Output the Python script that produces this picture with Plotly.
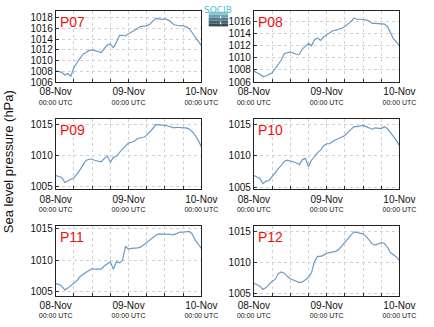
import pandas as pd
import plotly.graph_objects as go

# ---------------- data ----------------
hours = pd.date_range("2013-11-08 00:00", periods=49, freq="h")

p07 = [1008.1, 1008.0, 1007.8, 1007.3, 1007.6, 1007.1, 1008.7, 1009.6, 1010.5, 1011.2,
       1011.5, 1011.9, 1012.0, 1011.8, 1011.7, 1011.5, 1012.3, 1012.9, 1013.1, 1012.4,
       1013.4, 1014.7, 1014.7, 1014.6, 1015.0, 1015.3, 1015.6, 1016.0, 1016.4, 1016.4,
       1016.5, 1016.8, 1017.3, 1017.9, 1017.8, 1017.7, 1017.8, 1017.6, 1017.2, 1016.7,
       1016.6, 1016.6, 1016.5, 1016.3, 1016.0, 1015.2, 1014.5, 1013.6, 1012.8]
p08 = [1007.8, 1007.6, 1007.3, 1006.9, 1007.0, 1007.3, 1007.5, 1008.2, 1008.9, 1009.6,
       1010.7, 1010.9, 1011.0, 1010.8, 1010.6, 1010.6, 1011.5, 1011.9, 1012.4, 1012.0,
       1013.0, 1013.3, 1012.9, 1013.5, 1013.8, 1014.2, 1014.5, 1014.6, 1014.7, 1014.9,
       1015.2, 1015.6, 1016.0, 1016.6, 1016.4, 1016.4, 1016.4, 1016.3, 1016.1, 1015.7,
       1015.7, 1015.7, 1015.6, 1015.6, 1015.2, 1014.2, 1013.2, 1012.6, 1012.0]
p09 = [1006.8, 1006.7, 1006.5, 1005.7, 1006.0, 1006.2, 1006.4, 1007.0, 1007.7, 1008.5,
       1009.2, 1009.4, 1009.4, 1009.2, 1009.1, 1009.0, 1009.5, 1009.9, 1008.9, 1009.7,
       1009.9, 1010.5, 1011.0, 1011.5, 1012.0, 1012.1, 1012.3, 1012.7, 1012.8, 1012.9,
       1013.2, 1013.7, 1014.3, 1014.9, 1014.9, 1014.8, 1014.8, 1014.7, 1014.5, 1014.4,
       1014.5, 1014.4, 1014.4, 1014.4, 1014.2, 1013.8, 1013.2, 1012.4, 1011.4]
p10 = [1006.9, 1006.7, 1006.4, 1005.6, 1006.0, 1006.1, 1006.7, 1007.2, 1007.8, 1008.5,
       1009.1, 1009.3, 1009.2, 1009.0, 1008.9, 1008.6, 1009.4, 1009.6, 1008.3, 1009.3,
       1010.0, 1010.5, 1010.9, 1011.6, 1011.9, 1011.9, 1012.3, 1012.5, 1012.7, 1012.9,
       1013.2, 1013.7, 1014.2, 1014.6, 1014.6, 1014.7, 1014.8, 1014.6, 1014.4, 1014.2,
       1014.4, 1014.4, 1014.3, 1014.6, 1014.3, 1013.7, 1013.1, 1012.4, 1011.6]
p11 = [1006.3, 1006.2, 1005.9, 1005.3, 1005.6, 1006.0, 1006.3, 1006.8, 1007.4, 1007.8,
       1008.1, 1008.4, 1008.7, 1008.6, 1008.6, 1008.6, 1009.1, 1009.5, 1009.8, 1008.6,
       1009.8, 1009.6, 1010.0, 1012.2, 1011.8, 1011.9, 1011.9, 1012.0, 1012.1, 1012.5,
       1012.8, 1013.2, 1013.7, 1014.0, 1014.2, 1014.2, 1014.2, 1014.2, 1014.1, 1014.1,
       1014.3, 1014.5, 1014.5, 1014.5, 1014.6, 1014.2, 1013.2, 1012.6, 1011.9]
p12 = [1006.7, 1006.4, 1006.2, 1005.7, 1006.0, 1006.5, 1007.0, 1007.3, 1008.2, 1008.5,
       1008.3, 1007.8, 1007.4, 1007.2, 1007.0, 1006.8, 1006.9, 1007.2, 1007.6, 1008.4,
       1010.2, 1011.0, 1011.0, 1011.2, 1011.5, 1011.6, 1011.7, 1011.8, 1012.1, 1012.7,
       1013.3, 1013.8, 1014.4, 1014.9, 1014.8, 1014.7, 1014.6, 1014.2, 1013.5, 1013.0,
       1012.8, 1013.0, 1013.2, 1013.1, 1012.5, 1011.6, 1011.3, 1010.9, 1010.3]

station_names = ["P07", "P08", "P09", "P10", "P11", "P12"]
series = [p07, p08, p09, p10, p11, p12]
y_ranges = [[1006, 1019.3], [1006, 1017.8], [1004.6, 1015.8],
            [1004.7, 1015.8], [1004.4, 1015.4], [1004.7, 1015.8]]
y_dtick = [2, 2, 5, 5, 5, 5]
date_labels = ["08-Nov", "09-Nov", "10-Nov"]
y_title = "Sea level pressure (hPa)"

# ---------------- layout ----------------
W, H = 434, 327
col_x = [(42, 200), (257, 415)]
row_y = [(8, 81), (119, 191), (229, 300)]

tickvals = pd.date_range("2013-11-08 00:00", periods=9, freq="6h")
ticktext = []
for i in range(9):
    if i % 4 == 0:
        ticktext.append("<span style='font-size:10px'>" + date_labels[i // 4] +
                        "</span><br>00:00 UTC")
    else:
        ticktext.append("")

fig = go.Figure()
line_color = "#6b9bc6"

for k, (name, vals) in enumerate(zip(station_names, series)):
    r, c = divmod(k, 2)
    ax = "" if k == 0 else str(k + 1)
    fig.add_trace(go.Scatter(x=hours, y=vals, mode="lines",
                             line=dict(color=line_color, width=1.2),
                             xaxis="x" + ax, yaxis="y" + ax,
                             showlegend=False, hoverinfo="skip"))
    x0, x1 = col_x[c]
    yt, yb = row_y[r]
    fig.update_layout(**{
        "xaxis" + ax: dict(
            domain=[x0 / W, x1 / W], anchor="y" + ax,
            range=[hours[0], hours[-1]],
            tickmode="array", tickvals=tickvals, ticktext=ticktext,
            ticks="inside", ticklen=3, tickcolor="#333",
            showgrid=True, gridcolor="#d2d2d2", griddash="dot", gridwidth=1,
            showline=True, linecolor="#222", linewidth=1, mirror=True,
            zeroline=False, tickfont=dict(size=7, color="#111"),
            ticklabelstandoff=4),
        "yaxis" + ax: dict(
            domain=[1 - yb / H, 1 - yt / H], anchor="x" + ax,
            range=y_ranges[k], dtick=y_dtick[k], tick0=1000,
            ticks="inside", ticklen=3, tickcolor="#333",
            showgrid=True, gridcolor="#d2d2d2", griddash="dot", gridwidth=1,
            showline=True, linecolor="#222", linewidth=1, mirror=True,
            zeroline=False, tickfont=dict(size=10, color="#111")),
    })
    fig.add_annotation(text=name, xref="paper", yref="paper",
                       x=(x0 + 2) / W, y=1 - (yt + 1) / H,
                       xanchor="left", yanchor="top", showarrow=False,
                       font=dict(size=14, color="#ee1111",
                                 family="Liberation Sans, Arial"))

fig.add_annotation(text=y_title, xref="paper", yref="paper",
                   x=10 / W, y=1 - 163 / H, textangle=-90, xshift=-18,
                   showarrow=False, xanchor="center", yanchor="middle",
                   font=dict(size=13, color="#111",
                             family="Liberation Sans, Arial"))

# small logo (top centre)
bands = ["#8cc6d2", "#6e9fae", "#557f8e", "#42636f", "#334b55"]
for i, col in enumerate(bands):
    fig.add_shape(type="rect", xref="paper", yref="paper",
                  x0=208 / W, x1=229 / W,
                  y0=1 - (9 + 3 * (i + 1)) / H, y1=1 - (9 + 3 * i) / H,
                  fillcolor=col, line=dict(width=0), layer="above")
fig.add_shape(type="line", xref="paper", yref="paper",
              x0=221 / W, x1=221 / W, y0=1 - 22 / H, y1=1 - 13 / H,
              line=dict(color="white", width=1, dash="dot"), layer="above")
fig.add_annotation(text="SOCIB", xref="paper", yref="paper",
                   x=218.5 / W, y=1 - 0 / H, xanchor="center", yanchor="top",
                   showarrow=False,
                   font=dict(size=9, color="#45c4d8", family="DejaVu Sans"))

fig.update_layout(width=W, height=H, autosize=False,
                  margin=dict(l=0, r=0, t=0, b=0),
                  paper_bgcolor="white", plot_bgcolor="white",
                  font=dict(family="Liberation Sans, Arial", color="#111"))

fig.write_html("out.html")
